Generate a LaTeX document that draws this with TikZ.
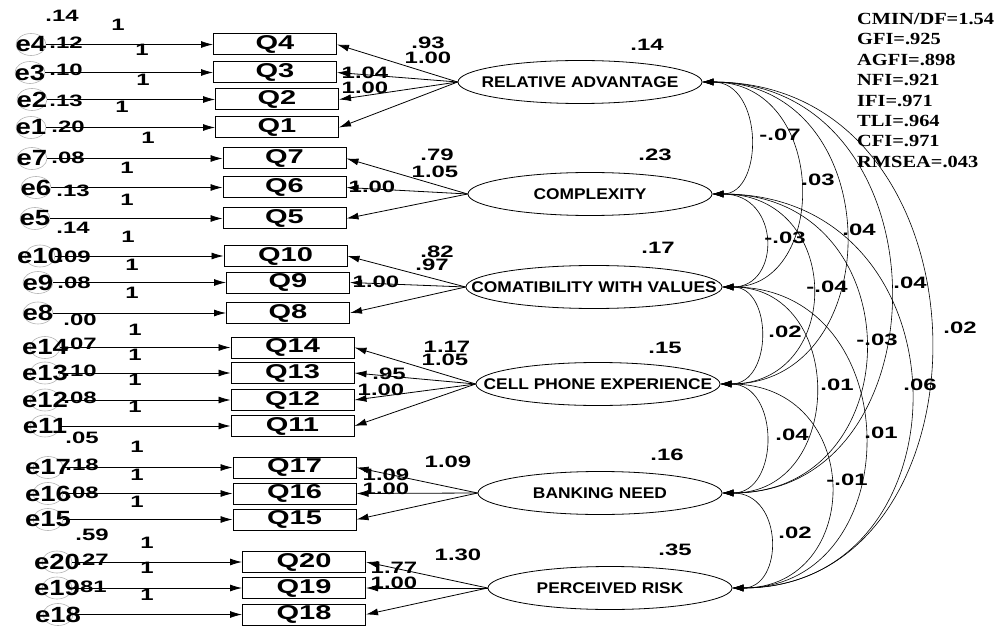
\documentclass[tikz,border=0pt]{standalone}
\usepackage{fontspec}
\setmainfont{Liberation Sans}
\newfontfamily\widefont[FakeStretch=1.45]{Liberation Sans}
\newfontfamily\efont[FakeStretch=1.25]{Liberation Sans}
\newfontfamily\latfont[FakeStretch=1.12]{Liberation Sans}
\newfontfamily\fitfont[FakeStretch=1.2]{Liberation Serif}
\usetikzlibrary{shapes.geometric,arrows.meta}
\tikzset{
  qbox/.style={draw,line width=1pt,minimum width=123pt,minimum height=21pt,inner sep=0pt,
    font=\widefont\bfseries\fontsize{20}{20}\selectfont},
  err/.style={draw=gray!60,line width=0.6pt,ellipse,minimum width=30pt,minimum height=22pt,inner sep=0pt},
  elabel/.style={inner sep=0pt,font=\efont\bfseries\fontsize{22}{22}\selectfont},
  latent/.style={draw,ellipse,line width=0.8pt,minimum width=244pt,minimum height=43pt,inner sep=0pt},
  lattext/.style={inner sep=0pt,font=\latfont\bfseries\fontsize{15.5}{15.5}\selectfont},
  num/.style={inner sep=0pt,font=\widefont\bfseries\fontsize{16.5}{16.5}\selectfont},
  fitbox/.style={align=left,inner sep=0pt,font=\fitfont\bfseries\fontsize{17}{20.4}\selectfont},
  load/.style={line width=0.8pt,-{Latex[length=12pt,width=7pt]}},
  cov/.style={line width=0.6pt,{Latex[length=11pt,width=7pt]}-{Latex[length=11pt,width=7pt]}},
}
\begin{document}
\begin{tikzpicture}[x=1pt,y=-1pt]
\useasboundingbox (0,0) rectangle (995,628);
% indicators and their error terms
\foreach \i/\ex/\qx/\y in {4/31/275/44.5, 3/30/275/72.5, 2/32/277/99.5, 1/31/277/127.5,
    7/32/284.5/158.5, 6/36/284.5/187.5, 5/35/284.5/218.5,
    10/40/285.5/256, 9/38/288/282.5, 8/38/288/313,
    14/45/292.5/347.5, 13/45/292.5/373, 12/45/292.5/400, 11/45/292.5/426,
    17/48/294.5/467.5, 16/48/294.5/493.5, 15/48/294.5/519.5,
    20/57/304/562, 19/57/304/588, 18/58/304/614.5}
{
  \node[qbox] (q\i) at (\qx,\y) {Q\i};
  \node[err,label={[elabel]center:e\i}] (e\i) at (\ex,\y) {};
  \draw[load] (e\i) -- (q\i);
}
% latent variables
\node[latent,label={[lattext]center:RELATIVE ADVANTAGE}] (ra) at (580,82) {};
\node[latent,label={[lattext]center:COMPLEXITY}] (cx) at (590,194) {};
\node[latent,minimum width=256pt,label={[lattext]center:COMATIBILITY WITH VALUES}] (cw) at (594,287) {};
\node[latent,label={[lattext]center:CELL PHONE EXPERIENCE}] (ce) at (598,384) {};
\node[latent,label={[lattext]center:BANKING NEED}] (bn) at (600,493) {};
\node[latent,label={[lattext]center:PERCEIVED RISK}] (pr) at (610,588) {};
% loadings
\foreach \q in {4,3,2,1} \draw[load] (ra.west) -- (q\q.east);
\foreach \q in {7,6,5} \draw[load] (cx.west) -- (q\q.east);
\foreach \q in {10,9,8} \draw[load] (cw.west) -- (q\q.east);
\foreach \q in {14,13,12,11} \draw[load] (ce.west) -- (q\q.east);
\foreach \q in {17,16,15} \draw[load] (bn.west) -- (q\q.east);
\foreach \q in {20,19,18} \draw[load] (pr.west) -- (q\q.east);
% covariances
\foreach \a/\b/\c in {ra/cx/764, ra/cw/829, ra/ce/890, ra/bn/949, ra/pr/1001,
    cx/cw/781, cx/ce/844, cx/bn/914, cx/pr/973,
    cw/ce/773, cw/bn/846, cw/pr/910,
    ce/bn/780, ce/pr/865, bn/pr/784}
  \draw[cov] (\a.east) .. controls (\a.east -| \c,0) and (\b.east -| \c,0) .. (\b.east);
% error variances
\foreach \t/\x/\y [count=\k] in {.14/62/16, .12/66/43, .10/66/70, .13/66/101, .20/68/127,
    .08/68/158, .13/73/191, .14/73/228, .09/74/257, .08/74/283, .00/80/320,
    .07/80/344, .10/80/371, .08/80/398, .05/82/438, .18/82/465, .08/82/493,
    .59/92/535, .27/92/560, .81/90/587}
  \node[num] (v\k) at (\x,\y) {\t};
% fixed paths
\foreach \x/\y [count=\k] in {118/25, 142/50, 143/80, 122/107, 148/138, 127/168, 127/200,
    128/237, 132/265, 132/293, 135/330, 135/355, 135/380, 135/407, 137/447,
    137/475, 137/502, 147/543, 147/568, 147/595}
  \node[num] (o\k) at (\x,\y) {1};
% loading estimates
\foreach \t/\x/\y [count=\k] in {.93/428/43, 1.00/428/58, 1.04/365/73, 1.00/365/88,
    .79/437/155, 1.05/435/172, 1.00/372/187,
    .82/437/252, .97/432/265, 1.00/376/282,
    1.17/447/347, 1.05/445/360, .95/389/374, 1.00/381/390,
    1.09/448/462, 1.09/386/475, 1.00/386/489,
    1.30/458/555, 1.77/394/568, 1.00/394/583}
  \node[num] (w\k) at (\x,\y) {\t};
% latent variances
\foreach \t/\x/\y [count=\k] in {.14/647/45, .23/655/155, .17/658/248, .15/665/348, .16/667/455, .35/675/550}
  \node[num] (u\k) at (\x,\y) {\t};
% covariance estimates
\foreach \t/\x/\y [count=\k] in {-.07/780/135, .03/818/180, .04/859/230, .04/910/283, .02/960/328,
    -.03/785/238, -.04/827/287, -.03/877/340, .06/920/385,
    .02/785/332, .01/837/385, .01/881/433,
    .04/792/435, -.01/847/480, .02/795/533}
  \node[num] (c\k) at (\x,\y) {\t};
% fit indices
\node[fitbox,anchor=north west] (fit) at (857,13) {CMIN/DF=1.54\\GFI=.925\\AGFI=.898\\NFI=.921\\IFI=.971\\TLI=.964\\CFI=.971\\RMSEA=.043};
\end{tikzpicture}
\end{document}
